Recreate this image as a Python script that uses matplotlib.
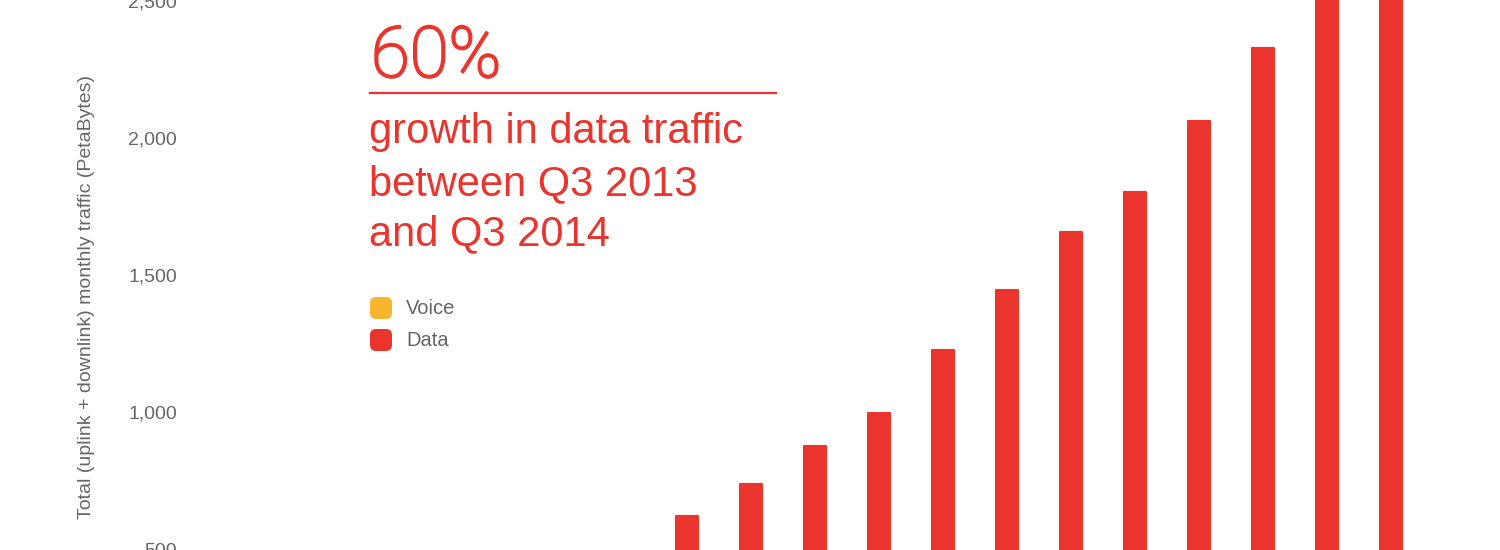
import matplotlib
matplotlib.use("Agg")
import matplotlib.pyplot as plt
import matplotlib.patheffects as pe
from matplotlib.patches import FancyBboxPatch

# ─── data (the two last bars run past the top) ────────────────────────────────
quarters = ["Q4 2011", "Q1 2012", "Q2 2012", "Q3 2012", "Q4 2012", "Q1 2013",
            "Q2 2013", "Q3 2013", "Q4 2013", "Q1 2014", "Q2 2014", "Q3 2014"]
data_pb = [620, 737, 876, 996, 1226, 1445, 1657, 1803, 2062, 2328, 2650, 2900]
y_ticks = [500, 1000, 1500, 2000, 2500]
y_tick_labels = ["500", "1,000", "1,500", "2,000", "2,500"]
legend_labels = ["Voice", "Data"]

RED = "#e9352e"
ORANGE = "#f8b52f"
GREY = "#666666"

W, H = 1500, 550
fig = plt.figure(figsize=(W / 100, H / 100), dpi=100)

# axes from x=180px to the right edge; bar i sits at 687 + 64*i px
left_px = 180
ax = fig.add_axes([left_px / W, 0, 1 - left_px / W, 1])
x = list(range(len(quarters)))
ax.bar(x, data_pb, width=0.35, color=RED, edgecolor=RED, linewidth=1.5,
       joinstyle="round")
ax.set_xlim((left_px - 687) / 64, (W - 687) / 64)
ax.set_ylim(500 - 1 / 0.274, 500 + 549 / 0.274)
ax.set_yticks(y_ticks, y_tick_labels)
ax.set_xticks([])
ax.tick_params(axis="y", length=0, pad=2, labelsize=14, labelcolor=GREY)
for lab in ax.get_yticklabels():
    lab.set_fontfamily("Liberation Sans")
for s in ax.spines.values():
    s.set_visible(False)

fig.text(87 / W, 1 - 297 / H,
         "Total (uplink + downlink) monthly traffic (PetaBytes)",
         rotation=90, ha="center", va="center", fontsize=14,
         color=GREY, family="Liberation Sans")

# headline (thin font thickened a little with a stroke of the same colour)
fig.text(371 / W, 1 - 77 / H, "60%", ha="left", va="baseline",
         fontsize=51, color=RED, family="Roboto", weight="light",
         path_effects=[pe.withStroke(linewidth=1.6, foreground=RED)])
fig.add_artist(plt.Line2D([370 / W, 776 / W], [1 - 93 / H, 1 - 93 / H],
                          color=RED, linewidth=1.6))
for base_y, line in zip([143, 195, 245],
                        ["growth in data traffic", "between Q3 2013", "and Q3 2014"]):
    fig.text(369 / W, 1 - base_y / H, line, ha="left", va="baseline",
             fontsize=30, color=RED, family="Liberation Sans")

# legend: rounded squares + labels
for top_px, colour, label in zip([297, 329], [ORANGE, RED], legend_labels):
    sq = FancyBboxPatch((373 / W, 1 - (top_px + 19) / H), 16 / W, 16 / H,
                        boxstyle="round,pad=0.002,rounding_size=0.004",
                        transform=fig.transFigure, facecolor=colour,
                        edgecolor=colour, linewidth=0, mutation_aspect=W / H)
    fig.add_artist(sq)
    fig.text(406 / W, 1 - (top_px + 11) / H, label, ha="left", va="center",
             fontsize=14.5, color=GREY, family="Liberation Sans")

fig.savefig("out.png", dpi=100)
